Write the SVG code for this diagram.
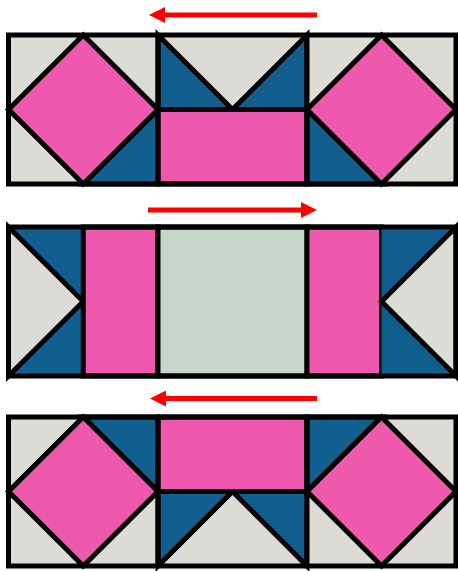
<svg xmlns="http://www.w3.org/2000/svg" width="458" height="571" viewBox="0 0 458 571">
<defs>
<style>
.g{fill:#dddbd5}
.p{fill:#ee58ad}
.b{fill:#115f8f}
.m{fill:#c5d6cb}
.s{stroke:#000;stroke-width:5;stroke-linejoin:miter}
.o{fill:none;stroke:#000;stroke-width:5}
.ar{fill:none;stroke:#ff0000;stroke-width:5}
.ah{fill:#ff0000}
</style>
</defs>
<rect width="458" height="571" fill="#ffffff"/>
<g id="arrows">
<line class="ar" x1="163" y1="15" x2="317" y2="15"/>
<polygon class="ah" points="149,15 165,7 165,23"/>
<line class="ar" x1="148" y1="210" x2="303" y2="210"/>
<polygon class="ah" points="317,210 301,202 301,218"/>
<line class="ar" x1="164" y1="398.5" x2="317" y2="398.5"/>
<polygon class="ah" points="150,398.5 166,390.5 166,406.5"/>
</g>
<g id="row1">
<g id="r1b1">
<rect class="g" x="8.5" y="35" width="149.5" height="149"/>
<polygon class="b s" points="158,109.5 158,184 83.25,184"/>
<polygon class="p s" points="83.25,35 158,109.5 83.25,184 8.5,109.5"/>
</g>
<g id="r1b2">
<rect class="g" x="158" y="35" width="149" height="74.5"/>
<polygon class="b s" points="158,35 158,109.5 232.5,109.5"/>
<polygon class="b s" points="307,35 307,109.5 232.5,109.5"/>
<rect class="p s" x="158" y="109.5" width="149" height="74.5"/>
</g>
<g id="r1b3">
<rect class="g" x="307" y="35" width="149" height="149"/>
<polygon class="b s" points="307,109.5 307,184 381.5,184"/>
<polygon class="p s" points="381.5,35 456,109.5 381.5,184 307,109.5"/>
</g>
<rect class="o" x="8.5" y="35" width="447.5" height="149"/>
<line class="o" x1="158" y1="35" x2="158" y2="184"/>
<line class="o" x1="307" y1="35" x2="307" y2="184"/>
</g>
<g id="row2">
<g id="r2left">
<rect class="b" x="8.5" y="227" width="74.75" height="149"/>
<polygon class="g s" points="8.5,227 83.25,301.5 8.5,376"/>
</g>
<rect id="r2pink1" class="p s" x="83.25" y="227" width="74.75" height="149"/>
<rect id="r2center" class="m s" x="158" y="227" width="149" height="149"/>
<rect id="r2pink2" class="p s" x="307" y="227" width="74.5" height="149"/>
<g id="r2right">
<rect class="b" x="381.5" y="227" width="74.5" height="149"/>
<polygon class="g s" points="456,227 381.5,301.5 456,376"/>
</g>
<rect class="o" x="8.5" y="227" width="447.5" height="149"/>
</g>
<g id="row3">
<g id="r3b1">
<rect class="g" x="8.5" y="417" width="149.5" height="149"/>
<polygon class="b s" points="83.25,417 158,417 158,491.5"/>
<polygon class="p s" points="83.25,417 158,491.5 83.25,566 8.5,491.5"/>
</g>
<g id="r3b2">
<rect class="p s" x="158" y="417" width="149" height="74.5"/>
<rect class="g" x="158" y="491.5" width="149" height="74.5"/>
<polygon class="b s" points="158,491.5 232.5,491.5 158,566"/>
<polygon class="b s" points="232.5,491.5 307,491.5 307,566"/>
</g>
<g id="r3b3">
<rect class="g" x="307" y="417" width="149" height="149"/>
<polygon class="b s" points="307,417 381.5,417 307,491.5"/>
<polygon class="p s" points="381.5,417 456,491.5 381.5,566 307,491.5"/>
</g>
<rect class="o" x="8.5" y="417" width="447.5" height="149"/>
<line class="o" x1="158" y1="417" x2="158" y2="566"/>
<line class="o" x1="307" y1="417" x2="307" y2="566"/>
</g>
</svg>
